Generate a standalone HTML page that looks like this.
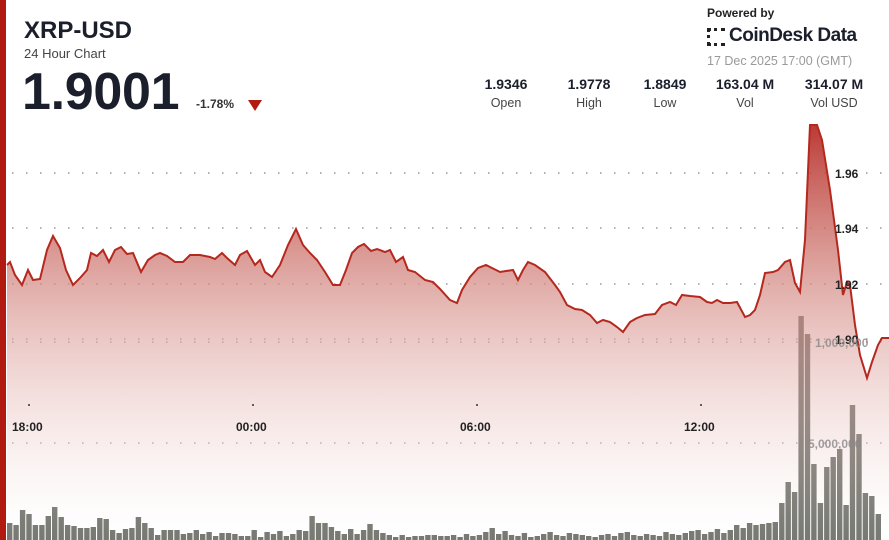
<!DOCTYPE html>
<html><head><meta charset="utf-8"><style>
body{margin:0;width:889px;height:540px;overflow:hidden;background:#fff;font-family:"Liberation Sans",sans-serif;position:relative}
.a{position:absolute;white-space:nowrap}
</style></head><body>
<div class="a" style="left:0;top:0;width:6px;height:540px;background:#b01a10"></div>
<div class="a" style="left:24px;top:17px;font-size:24px;font-weight:bold;color:#1a1f2b">XRP-USD</div>
<div class="a" style="left:24px;top:46px;font-size:13px;color:#444">24 Hour Chart</div>
<div class="a" style="left:22px;top:62px;font-size:52px;font-weight:bold;color:#1a1f2b;letter-spacing:-0.3px">1.9001</div>
<div class="a" style="left:196px;top:97px;font-size:12px;font-weight:bold;color:#333">-1.78%</div>
<div class="a" style="left:248px;top:100px;width:0;height:0;border-left:7px solid transparent;border-right:7px solid transparent;border-top:11px solid #b01a10"></div>
<div class="a" style="left:707px;top:6px;font-size:12px;font-weight:bold;color:#222">Powered by</div>
<div class="a" style="left:707px;top:28px;width:18px;height:18px;border:3px dotted #222;box-sizing:border-box;border-right:none"></div>
<div class="a" style="left:729px;top:25px;font-size:19px;font-weight:bold;color:#1a1f2b;letter-spacing:-0.5px">CoinDesk Data</div>
<div class="a" style="left:707px;top:54px;font-size:12.5px;color:#999">17 Dec 2025 17:00 (GMT)</div>
<div class="a" style="left:466px;top:76px;width:80px;text-align:center;font-size:14px;font-weight:bold;color:#1a1f2b">1.9346</div>
<div class="a" style="left:549px;top:76px;width:80px;text-align:center;font-size:14px;font-weight:bold;color:#1a1f2b">1.9778</div>
<div class="a" style="left:625px;top:76px;width:80px;text-align:center;font-size:14px;font-weight:bold;color:#1a1f2b">1.8849</div>
<div class="a" style="left:705px;top:76px;width:80px;text-align:center;font-size:14px;font-weight:bold;color:#1a1f2b">163.04 M</div>
<div class="a" style="left:794px;top:76px;width:80px;text-align:center;font-size:14px;font-weight:bold;color:#1a1f2b">314.07 M</div>
<div class="a" style="left:466px;top:96px;width:80px;text-align:center;font-size:12.5px;color:#444">Open</div>
<div class="a" style="left:549px;top:96px;width:80px;text-align:center;font-size:12.5px;color:#444">High</div>
<div class="a" style="left:625px;top:96px;width:80px;text-align:center;font-size:12.5px;color:#444">Low</div>
<div class="a" style="left:705px;top:96px;width:80px;text-align:center;font-size:12.5px;color:#444">Vol</div>
<div class="a" style="left:794px;top:96px;width:80px;text-align:center;font-size:12.5px;color:#444">Vol USD</div>
<svg class="a" style="left:0;top:0" width="889" height="540">
<defs><linearGradient id="g" gradientUnits="userSpaceOnUse" x1="0" y1="125" x2="0" y2="540">
<stop offset="0" stop-color="#b8302a" stop-opacity="0.95"/><stop offset="0.4" stop-color="#d68f89" stop-opacity="0.7"/><stop offset="1" stop-color="#fff" stop-opacity="0.2"/></linearGradient></defs>
<g stroke="#999" stroke-width="1.5" stroke-dasharray="1.5 12.5">
<line x1="12" y1="173" x2="889" y2="173"/><line x1="12" y1="228" x2="889" y2="228"/><line x1="12" y1="284" x2="889" y2="284"/><line x1="12" y1="339" x2="889" y2="339"/><line x1="12" y1="342" x2="889" y2="342"/><line x1="12" y1="443" x2="889" y2="443"/></g>
<g id="bars" fill="#55574f"></g>
<path id="p" fill="url(#g)" stroke="none" d=""/>
<polyline id="l" fill="none" stroke="#b5281e" stroke-width="2" points=""/>
<g font-size="12" font-weight="bold" fill="#222"><text x="835" y="178">1.96</text><text x="835" y="233">1.94</text><text x="835" y="289">1.92</text><text x="835" y="344">1.90</text>
<text x="12" y="431">18:00</text><text x="236" y="431">00:00</text><text x="460" y="431">06:00</text><text x="684" y="431">12:00</text></g>
<g font-size="12" font-weight="bold" fill="#888" opacity="0.8"><text x="815" y="347">1,000,000</text><text x="808" y="448">5,000,000</text></g>
<g fill="#333"><circle cx="29" cy="405" r="1"/><circle cx="253" cy="405" r="1"/><circle cx="477" cy="405" r="1"/><circle cx="701" cy="405" r="1"/></g>
</svg>
<script>
var pts=[[7,265],[10,262],[15,275],[22,285],[28,270],[33,280],[40,279],[47,250],[53,236],[60,248],[66,270],[73,285],[80,278],[87,270],[91,253],[97,256],[103,250],[109,262],[115,250],[121,247],[127,254],[133,253],[141,272],[148,260],[155,255],[160,253],[167,256],[175,262],[183,262],[190,255],[200,255],[210,257],[215,259],[222,253],[227,258],[235,265],[240,255],[247,251],[255,265],[260,260],[265,272],[272,277],[280,265],[288,245],[296,229],[303,245],[310,253],[317,260],[325,272],[333,285],[340,285],[346,270],[352,253],[358,247],[364,244],[371,251],[377,249],[385,252],[390,250],[396,262],[403,257],[408,270],[415,272],[425,280],[433,282],[440,289],[450,300],[457,303],[462,290],[470,277],[478,268],[486,265],[492,268],[500,272],[506,271],[513,270],[518,280],[523,270],[528,262],[535,265],[545,272],[555,285],[560,292],[567,305],[575,309],[582,310],[590,315],[597,323],[603,320],[610,322],[617,327],[623,332],[630,322],[637,318],[645,315],[655,314],[662,305],[670,302],[676,305],[682,295],[690,296],[700,297],[707,302],[712,303],[717,300],[723,303],[730,303],[737,302],[745,317],[750,315],[755,310],[760,295],[765,273],[773,272],[778,270],[785,262],[790,260],[795,283],[800,292],[805,240],[810,125],[817,125],[822,140],[830,190],[838,250],[843,295],[847,282],[850,285],[855,325],[860,355],[867,378],[872,362],[878,345],[882,338],[889,338]];
var s=pts.map(function(p){return p.join(',')}).join(' ');
document.getElementById('l').setAttribute('points',s);
document.getElementById('p').setAttribute('d','M7,540 L'+s.replace(/ /g,' L')+' L889,540 Z');
var h=[17,15,30,26,15,15,24,33,23,15,14,12,12,13,22,21,10,7,11,12,23,17,12,5,10,10,10,6,7,10,6,8,4,7,7,6,4,4,10,3,8,6,9,4,6,10,9,24,17,17,13,9,6,11,6,10,16,10,7,5,3,5,3,4,4,5,5,4,4,5,3,6,4,5,8,12,6,9,5,4,7,3,4,6,8,5,4,7,6,5,4,3,5,6,4,7,8,5,4,6,5,4,8,6,5,7,9,10,6,8,11,7,10,15,12,17,15,16,17,18,37,58,48,224,206,76,37,73,83,91,35,135,106,47,44,26];
var g=document.getElementById('bars'),o='';
var n=h.length,pitch=(882-7)/n;
for(var i=0;i<n;i++){o+='<rect x="'+(7+i*pitch).toFixed(1)+'" y="'+(540-h[i])+'" width="'+(pitch-1).toFixed(1)+'" height="'+h[i]+'"/>';}
g.innerHTML=o;
</script>
</body></html>
